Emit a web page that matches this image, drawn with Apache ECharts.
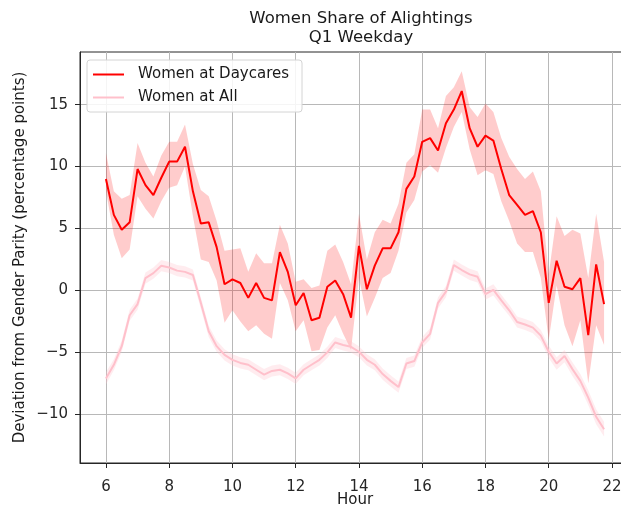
<!DOCTYPE html>
<html>
<head>
<meta charset="utf-8">
<script src="https://cdn.jsdelivr.net/npm/echarts@6/dist/echarts.min.js"></script>
<style>
  html, body { margin: 0; padding: 0; background: #ffffff; }
  #chart { width: 621px; height: 508px; }
</style>
</head>
<body>
<div id="chart"></div>
<script>
// Quarter-hour time steps (hour of day)
const hours = [
  6, 6.25, 6.5, 6.75, 7, 7.25, 7.5, 7.75, 8, 8.25, 8.5, 8.75,
  9, 9.25, 9.5, 9.75, 10, 10.25, 10.5, 10.75, 11, 11.25, 11.5, 11.75,
  12, 12.25, 12.5, 12.75, 13, 13.25, 13.5, 13.75, 14, 14.25, 14.5, 14.75,
  15, 15.25, 15.5, 15.75, 16, 16.25, 16.5, 16.75, 17, 17.25, 17.5, 17.75,
  18, 18.25, 18.5, 18.75, 19, 19.25, 19.5, 19.75, 20, 20.25, 20.5, 20.75,
  21, 21.25, 21.5, 21.75
];

// Women at Daycares: mean deviation and confidence band
const daycareMean = [
  9.0, 6.1, 4.9, 5.5, 9.8, 8.5, 7.7, 9.1, 10.4, 10.4, 11.6, 8.0,
  5.4, 5.5, 3.5, 0.5, 0.9, 0.6, -0.6, 0.6, -0.6, -0.8, 3.1, 1.5,
  -1.2, -0.2, -2.4, -2.2, 0.3, 0.8, -0.3, -2.2, 3.6, 0.1, 2.0, 3.4,
  3.4, 4.7, 8.2, 9.2, 12.0, 12.3, 11.3, 13.5, 14.6, 16.1, 13.1, 11.6,
  12.5, 12.1, 9.8, 7.7, 6.9, 6.1, 6.4, 4.7, -1.0, 2.4, 0.3, 0.1,
  1.0, -3.6, 2.1, -1.1
];
const daycareHigh = [
  11.1, 8.0, 7.4, 7.7, 11.9, 10.3, 9.2, 10.9, 12.0, 12.0, 13.4, 10.2,
  8.1, 7.6, 5.6, 3.2, 3.3, 3.4, 1.5, 3.0, 2.2, 2.2, 5.3, 3.8,
  0.7, 0.9, 0.2, 0.4, 3.2, 3.7, 2.3, 0.5, 6.2, 2.5, 4.7, 5.7,
  5.4, 7.0, 10.3, 11.0, 14.6, 14.6, 13.1, 15.7, 16.4, 17.7, 14.8, 14.0,
  15.1, 14.4, 12.3, 10.8, 9.8, 9.0, 9.6, 8.0, 1.3, 6.0, 4.4, 4.9,
  4.6, 1.0, 6.2, 2.3
];
const daycareLow = [
  8.0, 4.5, 2.6, 3.3, 7.6, 6.6, 5.8, 7.2, 8.3, 8.5, 10.0, 6.0,
  2.5, 2.3, 0.8, -2.6, -1.6, -2.5, -3.3, -2.8, -3.5, -3.9, 0.6, -0.8,
  -3.3, -2.4, -4.9, -4.8, -3.0, -2.0, -3.5, -4.8, 1.0, -2.1, -0.6, 1.0,
  1.4, 3.2, 6.3, 7.3, 9.6, 10.1, 9.5, 11.5, 13.2, 14.4, 11.4, 9.3,
  9.7, 9.4, 7.2, 5.6, 3.8, 3.1, 3.1, 1.0, -4.0, 0.4, -2.8, -4.5,
  -2.4, -7.5, -2.8, -4.4
];

// Women at All stops: mean deviation and confidence band
const allMean = [
  -7.1, -6.0, -4.5, -2.0, -1.1, 1.0, 1.4, 2.0, 1.85, 1.6, 1.5, 1.25,
  -1.0, -3.3, -4.5, -5.2, -5.6, -5.85, -6.0, -6.4, -6.8, -6.5, -6.4, -6.7,
  -7.1, -6.4, -6.0, -5.6, -5.0, -4.2, -4.4, -4.55, -4.95, -5.6, -6.0, -6.75,
  -7.3, -7.8, -5.9, -5.7, -4.2, -3.5, -1.0, -0.1, 2.05, 1.65, 1.3, 1.1,
  -0.3, 0.05, -0.8, -1.6, -2.55, -2.75, -3.0, -3.65, -4.95, -5.9, -5.3, -6.35,
  -7.3, -8.65, -10.2, -11.2
];
const allLow = [
  -7.6, -6.45, -4.95, -2.45, -1.55, 0.55, 0.95, 1.55, 1.4, 1.15, 1.05, 0.8,
  -1.45, -3.75, -4.95, -5.65, -6.05, -6.3, -6.45, -6.85, -7.25, -6.95, -6.85, -7.15,
  -7.55, -6.85, -6.45, -6.05, -5.45, -4.65, -4.85, -5.0, -5.4, -6.05, -6.45, -7.2,
  -7.75, -8.25, -6.35, -6.15, -4.65, -3.95, -1.45, -0.55, 1.6, 1.2, 0.85, 0.65,
  -0.75, -0.4, -1.25, -2.05, -3.0, -3.2, -3.45, -4.1, -5.45, -6.4, -5.8, -6.9,
  -7.85, -9.25, -10.8, -11.8
];
const allHigh = [
  -6.6, -5.55, -4.05, -1.55, -0.65, 1.45, 1.85, 2.45, 2.3, 2.05, 1.95, 1.7,
  -0.55, -2.85, -4.05, -4.75, -5.15, -5.4, -5.55, -5.95, -6.35, -6.05, -5.95, -6.25,
  -6.65, -5.95, -5.55, -5.15, -4.55, -3.75, -3.95, -4.1, -4.5, -5.15, -5.55, -6.3,
  -6.85, -7.35, -5.45, -5.25, -3.75, -3.05, -0.55, 0.35, 2.5, 2.1, 1.75, 1.55,
  0.15, 0.5, -0.35, -1.15, -2.1, -2.3, -2.55, -3.2, -4.45, -5.4, -4.8, -5.8,
  -6.75, -8.05, -9.6, -10.6
];

// Axis tick positions
const xTicks = [6, 8, 10, 12, 14, 16, 18, 20, 22];
const yTicks = [-10, -5, 0, 5, 10, 15];

const FONT = '"DejaVu Sans", sans-serif';

function pairs(xs, ys) {
  return xs.map((x, i) => [x, ys[i]]);
}

// Shaded confidence band drawn as one polygon in data coordinates
function band(name, low, high, fill, z) {
  return {
    name: name,
    type: 'custom',
    silent: true,
    z: z,
    clip: true,
    data: [[hours[0], low[0]]],
    renderItem: function (params, api) {
      const pts = [];
      for (let i = 0; i < hours.length; i++) pts.push(api.coord([hours[i], high[i]]));
      for (let i = hours.length - 1; i >= 0; i--) pts.push(api.coord([hours[i], low[i]]));
      return { type: 'polygon', shape: { points: pts }, style: { fill: fill } };
    }
  };
}

const minus = v => String(v).replace('-', '\u2212');

const chart = echarts.init(document.getElementById('chart'), null, { renderer: 'canvas' });
chart.setOption({
  animation: false,
  backgroundColor: '#ffffff',
  textStyle: { fontFamily: FONT },
  title: {
    text: 'Women Share of Alightings\nQ1 Weekday',
    left: 356,
    top: 4,
    textAlign: 'center',
    textStyle: { fontFamily: FONT, fontSize: 16.5, fontWeight: 'normal', color: '#1a1a1a', lineHeight: 19 }
  },
  legend: {
    orient: 'vertical',
    left: 87,
    top: 60,
    padding: [7, 13, 7, 6],
    itemGap: 8,
    itemWidth: 31,
    itemHeight: 2,
    borderColor: '#d4d4d4',
    borderWidth: 1,
    borderRadius: 3,
    backgroundColor: 'rgba(255,255,255,0.85)',
    textStyle: { fontFamily: FONT, fontSize: 15, color: '#1a1a1a', padding: [0, 0, 0, 9], lineHeight: 15 },
    data: [
      { name: 'Women at Daycares', icon: 'rect' },
      { name: 'Women at All', icon: 'rect' }
    ]
  },
  grid: {
    left: 80, top: 52, width: 550, height: 411,
    outerBoundsMode: 'none',
    containLabel: false,
    show: true, borderColor: '#262626', borderWidth: 1, backgroundColor: 'transparent'
  },
  xAxis: {
    type: 'value',
    min: 5.18,
    max: 22.57,
    name: 'Hour',
    nameLocation: 'middle',
    nameGap: 30,
    nameMoveOverlap: false,
    nameTextStyle: { fontFamily: FONT, fontSize: 15, color: '#1a1a1a' },
    axisLine: { show: true, onZero: false, lineStyle: { color: '#262626', width: 1 } },
    axisTick: { show: true, inside: false, length: 5, customValues: xTicks, lineStyle: { color: '#262626' } },
    axisLabel: { customValues: xTicks, margin: 17, fontFamily: FONT, fontSize: 15, color: '#262626', formatter: v => minus(v) },
    splitLine: { show: true, lineStyle: { color: '#b8b8b8', width: 1 } }
  },
  yAxis: {
    type: 'value',
    min: -13.93,
    max: 19.25,
    name: 'Deviation from Gender Parity (percentage points)',
    nameLocation: 'middle',
    nameRotate: 90,
    nameGap: 52,
    nameMoveOverlap: false,
    nameTextStyle: { fontFamily: FONT, fontSize: 15, color: '#1a1a1a' },
    axisLine: { show: true, onZero: false, lineStyle: { color: '#262626', width: 1 } },
    axisTick: { show: true, inside: false, length: 5, customValues: yTicks, lineStyle: { color: '#262626' } },
    axisLabel: { customValues: yTicks, margin: 12, fontFamily: FONT, fontSize: 15, color: '#262626', formatter: v => minus(v) },
    splitLine: { show: true, lineStyle: { color: '#b8b8b8', width: 1 } }
  },
  series: [
    band('Daycares band', daycareLow, daycareHigh, 'rgba(255,0,0,0.2)', 1),
    {
      name: 'Women at Daycares',
      type: 'line',
      z: 2,
      data: pairs(hours, daycareMean),
      symbol: 'none',
      color: '#ff0000',
      lineStyle: { color: '#ff0000', width: 2 }
    },
    band('All band', allLow, allHigh, 'rgba(255,192,203,0.3)', 3),
    {
      name: 'Women at All',
      type: 'line',
      z: 4,
      data: pairs(hours, allMean),
      symbol: 'none',
      color: '#ffc0cb',
      lineStyle: { color: '#ffc0cb', width: 2 }
    }
  ]
});
</script>
</body>
</html>
